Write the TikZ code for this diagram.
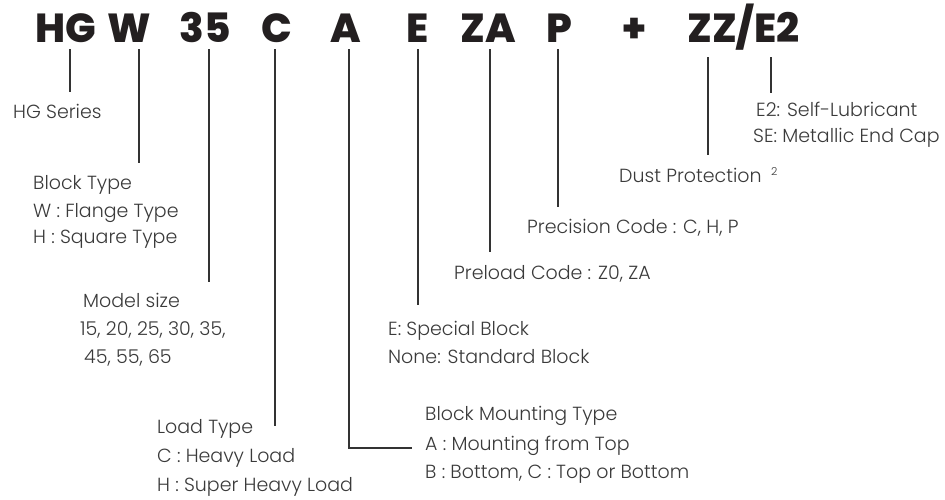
\documentclass[tikz,border=0pt]{standalone}
\usepackage{fontspec}
\setmainfont{Poppins}
\newfontfamily\lightf{Poppins Light}
\newfontfamily\heavyf{Poppins ExtraBold}
\definecolor{ttl}{HTML}{231F20}
\definecolor{txt}{HTML}{3A3A3A}
\definecolor{ln}{HTML}{333333}
\tikzset{
  ttlnode/.style={anchor=base, inner xsep=0pt, inner ysep=7pt, text=ttl, font=\heavyf\fontsize{40.5}{45}\selectfont},
  lbl/.style={anchor=base west, inner sep=0pt, text=txt, font=\lightf\fontsize{19}{22}\selectfont},
  conn/.style={draw=ln, line width=1.1pt}
}
\begin{document}
\begin{tikzpicture}[x=1pt,y=-1pt]
\useasboundingbox (0,0) rectangle (945,499);
% title
\node[ttlnode] (thg) at (66,42) {HG};
\node[ttlnode] (tw) at (129,42) {W};
\node[ttlnode] (t35) at (205.5,42) {35};
\node[ttlnode] (tc) at (276.5,42) {C};
\node[ttlnode] (ta) at (346,42) {A};
\node[ttlnode] (te) at (418,42) {E};
\node[ttlnode] (tza) at (488.5,42) {ZA};
\node[ttlnode] (tp) at (559,42) {P};
\node[ttlnode] (tplus) at (634.5,42) {+};
\node[ttlnode,anchor=base west] (tzz) at (687,42) {ZZ/E2};
% labels
\node[lbl] (hgs) at (13,118) {HG Series};
\node[lbl] (bt1) at (33,189) {Block Type};
\node[lbl] (bt2) at (33,217) {W : Flange Type};
\node[lbl] (bt3) at (33,243) {H : Square Type};
\node[lbl] (ms1) at (83,307) {Model size};
\node[lbl] (ms2) at (80,335) {15, 20, 25, 30, 35,};
\node[lbl] (ms3) at (84,363) {45, 55, 65};
\node[lbl] (lt1) at (157,433) {Load Type};
\node[lbl] (lt2) at (157,462) {C : Heavy Load};
\node[lbl] (lt3) at (157,491) {H : Super Heavy Load};
\node[lbl] (sb1) at (388,335) {E: Special Block};
\node[lbl] (sb2) at (388,363) {None: Standard Block};
\node[lbl] (bm1) at (425,420) {Block Mounting Type};
\node[lbl] (bm2) at (425,450) {A : Mounting from Top};
\node[lbl] (bm3) at (425,478) {B : Bottom, C : Top or Bottom};
\node[lbl] (pl) at (454,279) {Preload Code : Z0, ZA};
\node[lbl] (pc) at (527,233) {Precision Code : C, H, P};
\node[lbl] (dp) at (619,182) {Dust Protection};
\node[lbl,font=\lightf\fontsize{11}{12}\selectfont] (dpn) at (771,175) {2};
\node[lbl] (e2a) at (756,116) {E2: Self-Lubricant};
\node[lbl] (e2b) at (753,142) {SE: Metallic End Cap};
% connector end points
\coordinate (ehg) at (70,92);
\coordinate (ew) at (139,163);
\coordinate (e35) at (209,282);
\coordinate (ec) at (275,426);
\coordinate (ea) at (349,448);
\coordinate (ea2) at (412,448);
\coordinate (ee) at (418,305);
\coordinate (eza) at (490,252);
\coordinate (ep) at (558,207);
\coordinate (ezz) at (708,155);
\coordinate (ee2) at (771,93);
% connectors
\draw[conn] (ehg |- thg.south) -- (ehg);
\draw[conn] (ew |- tw.south) -- (ew);
\draw[conn] (e35 |- t35.south) -- (e35);
\draw[conn] (ec |- tc.south) -- (ec);
\draw[conn] (ea |- ta.south) -- (ea) -- (ea2);
\draw[conn] (ee |- te.south) -- (ee);
\draw[conn] (eza |- tza.south) -- (eza);
\draw[conn] (ep |- tp.south) -- (ep);
\draw[conn] (ezz |- tzz.south) -- (ezz);
\draw[conn] (ee2 |- tzz.south) -- (ee2);
\end{tikzpicture}
\end{document}
